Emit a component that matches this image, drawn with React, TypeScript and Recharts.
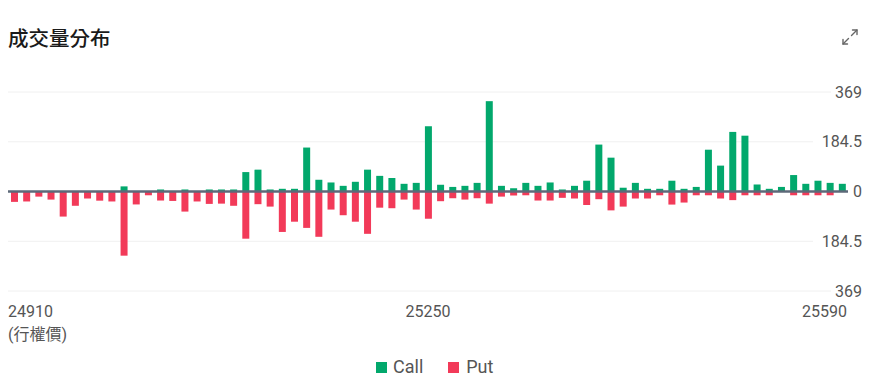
import React from "react";
import { BarChart, Bar, XAxis, YAxis, CartesianGrid, ReferenceLine } from "recharts";

// strike prices (行權價)
const strikes = [
  24910, 24920, 24930, 24940, 24950, 24960, 24970, 24980, 24990, 25000,
  25010, 25020, 25030, 25040, 25050, 25060, 25070, 25080, 25090, 25100,
  25110, 25120, 25130, 25140, 25150, 25160, 25170, 25180, 25190, 25200,
  25210, 25220, 25230, 25240, 25250, 25260, 25270, 25280, 25290, 25300,
  25310, 25320, 25330, 25340, 25350, 25360, 25370, 25380, 25390, 25400,
  25410, 25420, 25430, 25440, 25450, 25460, 25470, 25480, 25490, 25500,
  25510, 25520, 25530, 25540, 25550, 25560, 25570, 25580, 25590,
];

const callVolume = [
  0, 0, 0, 0, 0, 0, 0, 0, 0, 19,
  0, 0, 7.5, 0, 7.5, 0, 7.5, 7.5, 7.5, 72,
  81, 7.5, 10, 10, 163, 43.5, 33.5, 21, 36, 81,
  58, 50, 28.5, 32, 242, 25, 17, 21, 32, 335,
  21, 12.5, 32, 21, 33.5, 7.5, 21, 40, 174, 125.5,
  14, 32, 10, 10, 40, 10, 17, 155, 96, 221,
  207, 26, 10, 17, 61, 28.5, 40, 32, 28.5,
];

const putVolume = [
  38.5, 37, 19, 30, 93, 53, 26, 34, 37, 238,
  48, 14, 33.5, 35, 74.5, 37, 46, 45, 53, 175,
  47, 56, 150, 112, 135, 168, 67, 88, 112, 157,
  60, 62, 30, 67, 101, 36, 25, 30, 25, 45,
  19, 15, 14, 33.5, 33.5, 23.5, 26, 50, 28.5, 70,
  56, 26, 26, 14, 48.5, 41, 14, 14, 26, 32,
  14, 14, 14, 0, 14, 14, 14, 14, 0,
];

const yTicks = [-369, -184.5, 0, 184.5, 369];

const CALL_COLOR = "#02a86c";
const PUT_COLOR = "#f23a59";
const TEXT = "#555";
const FONT = "Roboto, 'Noto Sans CJK TC', sans-serif";

const data = strikes.map((s, i) => ({
  strike: s,
  call: callVolume[i],
  put: -putVolume[i],
}));

const fmtY = (v: number) => String(Math.abs(v));

const YTick = (props: any) => {
  const { y, payload } = props;
  const label = fmtY(payload.value);
  const w = label.length * 9 + 4;
  return (
    <g>
      <rect x={862 - w} y={y - 9} width={w + 16} height={18} fill="#fff" />
      <text
        x={862}
        y={y}
        dy={5.5}
        textAnchor="end"
        fill={TEXT}
        fontSize={16}
        fontFamily={FONT}
      >
        {label}
      </text>
    </g>
  );
};

const XTick = (props: any) => {
  const { x, y, payload } = props;
  const v = payload.value;
  let anchor: "start" | "middle" | "end" = "middle";
  let dx = 0;
  if (v === strikes[0]) {
    anchor = "start";
    dx = -6;
  } else if (v === strikes[strikes.length - 1]) {
    anchor = "end";
    dx = 5;
  }
  return (
    <text
      x={x + dx}
      y={y}
      dy={26}
      textAnchor={anchor}
      fill={TEXT}
      fontSize={16}
      fontFamily={FONT}
    >
      {v}
    </text>
  );
};

const ExpandIcon = () => (
  <svg width={18} height={18} viewBox="0 0 18 18" style={{ position: "absolute", left: 841, top: 28 }}>
    <g stroke="#666" strokeWidth={1.4} fill="none" strokeLinecap="round" strokeLinejoin="round">
      <path d="M10.5 7.5 L16 2" />
      <path d="M11.5 2 L16 2 L16 6.5" />
      <path d="M7.5 10.5 L2 16" />
      <path d="M2 11.5 L2 16 L6.5 16" />
    </g>
  </svg>
);

export default function App() {
  return (
    <div
      style={{
        position: "absolute",
        left: 0,
        top: 0,
        width: 878,
        height: 387,
        background: "#fff",
        fontFamily: FONT,
        overflow: "hidden",
      }}
    >
      <div
        style={{
          position: "absolute",
          left: 8,
          top: 22,
          fontSize: 20.5,
          fontWeight: 500,
          color: "#1a1a1a",
          fontFamily: "'Noto Sans CJK TC', sans-serif",
          lineHeight: "30px",
        }}
      >
        成交量分布
      </div>
      <ExpandIcon />

      <BarChart
        width={878}
        height={387}
        data={data}
        stackOffset="sign"
        barCategoryGap={0}
        margin={{ top: 92, right: 0, bottom: 66, left: 8 }}
      >
        <CartesianGrid horizontal vertical={false} stroke="#f0f0f0" strokeWidth={1} />
        <XAxis
          dataKey="strike"
          interval={33}
          tickLine={false}
          axisLine={false}
          tickSize={0}
          tickMargin={0}
          height={30}
          tick={<XTick />}
        />
        <YAxis
          orientation="right"
          domain={[-369, 369]}
          ticks={yTicks}
          allowDataOverflow
          tickLine={false}
          axisLine={false}
          width={30}
          tick={<YTick />}
        />
        <Bar dataKey="call" stackId="v" fill={CALL_COLOR} barSize={7} isAnimationActive={false} />
        <Bar dataKey="put" stackId="v" fill={PUT_COLOR} barSize={7} isAnimationActive={false} />
        <ReferenceLine y={0} stroke="#5d6979" strokeWidth={2.5} />
      </BarChart>

      <div
        style={{
          position: "absolute",
          left: 8,
          top: 324,
          fontSize: 16,
          color: TEXT,
          lineHeight: "22px",
        }}
      >
        (行權價)
      </div>

      <div
        style={{
          position: "absolute",
          left: 376,
          top: 355,
          display: "flex",
          alignItems: "center",
          fontSize: 18,
          color: TEXT,
          lineHeight: "24px",
        }}
      >
        <span style={{ display: "inline-block", width: 11, height: 11, background: CALL_COLOR, marginRight: 6 }} />
        <span style={{ marginRight: 25 }}>Call</span>
        <span style={{ display: "inline-block", width: 11, height: 11, background: PUT_COLOR, marginRight: 7 }} />
        <span>Put</span>
      </div>
    </div>
  );
}
